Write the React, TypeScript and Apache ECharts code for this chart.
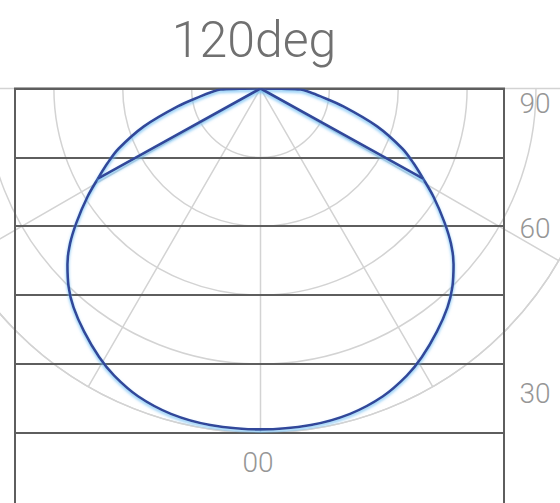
import React, { useEffect, useRef } from "react";
import * as echarts from "echarts";

// ---- data (angles in degrees from the downward axis; intensity in chart units) ----
const titleText = "120deg";
const ringValues = [0, 100, 200, 300, 400, 500];
const frameLevels = [0, 100, 200, 300, 400, 500];
const sideLabels = ["90", "60", "30"];
const bottomLabel = "00";

const outerAngles = [
  90, 89.3, 88.6, 85.5, 82.5, 77.8, 72, 67, 64, 61, 58, 54, 50.8, 47.7, 44, 40.5, 36, 31, 27, 21.7, 15.4, 8.5,
  0,
  -8.5, -15.4, -21.7, -27, -31, -36, -40.5, -44, -47.7, -50.8, -54, -58, -61, -64, -67, -72, -77.8, -82.5, -85.5,
  -88.6, -89.3, -90,
];
const outerValues = [
  0, 30, 58, 73, 88, 123, 178, 224, 247, 270, 296, 330, 357, 379, 401, 418, 436, 455, 468, 481, 490, 494,
  495,
  494, 490, 481, 468, 455, 436, 418, 401, 379, 357, 330, 296, 270, 247, 224, 178, 123, 88, 73,
  58, 30, 0,
];
const beamEdgeAngles = [61, -61];
const beamEdgeValues = [270, 270];

export default function App() {
  const ref = useRef<HTMLDivElement | null>(null);

  useEffect(() => {
    document.body.style.margin = "0";
    if (!ref.current) return;
    const chart = echarts.init(ref.current, null, { renderer: "svg" });

    const CX = 260.5;
    const CY = 88.5;
    const PX_PER_100 = 68.87;
    const R = PX_PER_100 * 5;

    const outerData = outerAngles.map((a, i) => [outerValues[i], a]);
    const edgeData: any[] = [];
    beamEdgeAngles.forEach((a, i) => {
      if (i > 0) edgeData.push(["-", "-"]);
      edgeData.push([0, a]);
      edgeData.push([beamEdgeValues[i], a]);
    });

    const blueLine = {
      color: "#33479a",
      width: 2.6,
      shadowColor: "rgba(110,190,245,0.9)",
      shadowBlur: 3,
      shadowOffsetY: 2,
    };
    const lightGrid = { color: "#d3d3d3", width: 1.5 };
    const labelFont = {
      fontFamily: "Roboto",
      fontWeight: 300,
      fontSize: 28,
      fill: "#969696",
      textAlign: "center",
      textVerticalAlign: "middle",
    };
    const sideY = [103, 228, 393];

    chart.setOption({
      animation: false,
      backgroundColor: "#ffffff",
      polar: { center: [CX, CY], radius: R },
      angleAxis: {
        type: "value",
        min: -90,
        max: 90,
        interval: 30,
        startAngle: 0,
        endAngle: -180,
        clockwise: true,
        z: 0,
        axisLine: { show: true, lineStyle: lightGrid },
        axisTick: { show: false },
        axisLabel: { show: false },
        splitLine: { show: true, lineStyle: lightGrid },
      },
      radiusAxis: {
        type: "value",
        min: ringValues[0],
        max: ringValues[ringValues.length - 1],
        interval: 100,
        z: 0,
        axisLine: { show: false },
        axisTick: { show: false },
        axisLabel: { show: false },
        splitLine: { show: true, lineStyle: lightGrid },
      },
      grid: {
        left: 15,
        top: CY,
        width: 489,
        height: PX_PER_100 * 6.2,
        outerBoundsMode: "none",
        containLabel: false,
        show: true,
        borderColor: "#5e5e5e",
        borderWidth: 2,
        backgroundColor: "transparent",
        z: 1,
      },
      xAxis: { type: "value", min: 0, max: 1, show: false },
      yAxis: { type: "value", min: 0, max: 620, inverse: true, show: false },
      graphic: [
        {
          type: "text",
          z: 10,
          style: {
            text: titleText,
            x: 254,
            y: 40,
            fontFamily: "Roboto",
            fontWeight: 300,
            fontSize: 50,
            fill: "#707070",
            textAlign: "center",
            textVerticalAlign: "middle",
          },
        },
        ...sideLabels.map((t, i) => ({
          type: "text",
          z: 10,
          style: { ...labelFont, text: t, x: 535, y: sideY[i] },
        })),
        {
          type: "text",
          z: 10,
          style: { ...labelFont, text: bottomLabel, x: 258, y: 462 },
        },
      ],
      series: [
        {
          type: "line",
          xAxisIndex: 0,
          yAxisIndex: 0,
          data: [[0.5, 0]],
          symbol: "none",
          lineStyle: { opacity: 0 },
          silent: true,
          z: 1,
          markLine: {
            silent: true,
            symbol: ["none", "none"],
            label: { show: false },
            lineStyle: { color: "#5e5e5e", width: 2, type: "solid" },
            data: frameLevels.map((v) => ({ yAxis: v })),
          },
        },
        {
          type: "line",
          coordinateSystem: "polar",
          data: outerData,
          smooth: 0.3,
          symbol: "none",
          lineStyle: blueLine,
          z: 5,
        },
        {
          type: "line",
          coordinateSystem: "polar",
          data: edgeData,
          symbol: "none",
          connectNulls: false,
          lineStyle: blueLine,
          z: 5,
        },
      ],
    });

    return () => chart.dispose();
  }, []);

  return (
    <div
      ref={ref}
      style={{ position: "absolute", left: 0, top: 0, width: 560, height: 503 }}
    />
  );
}
